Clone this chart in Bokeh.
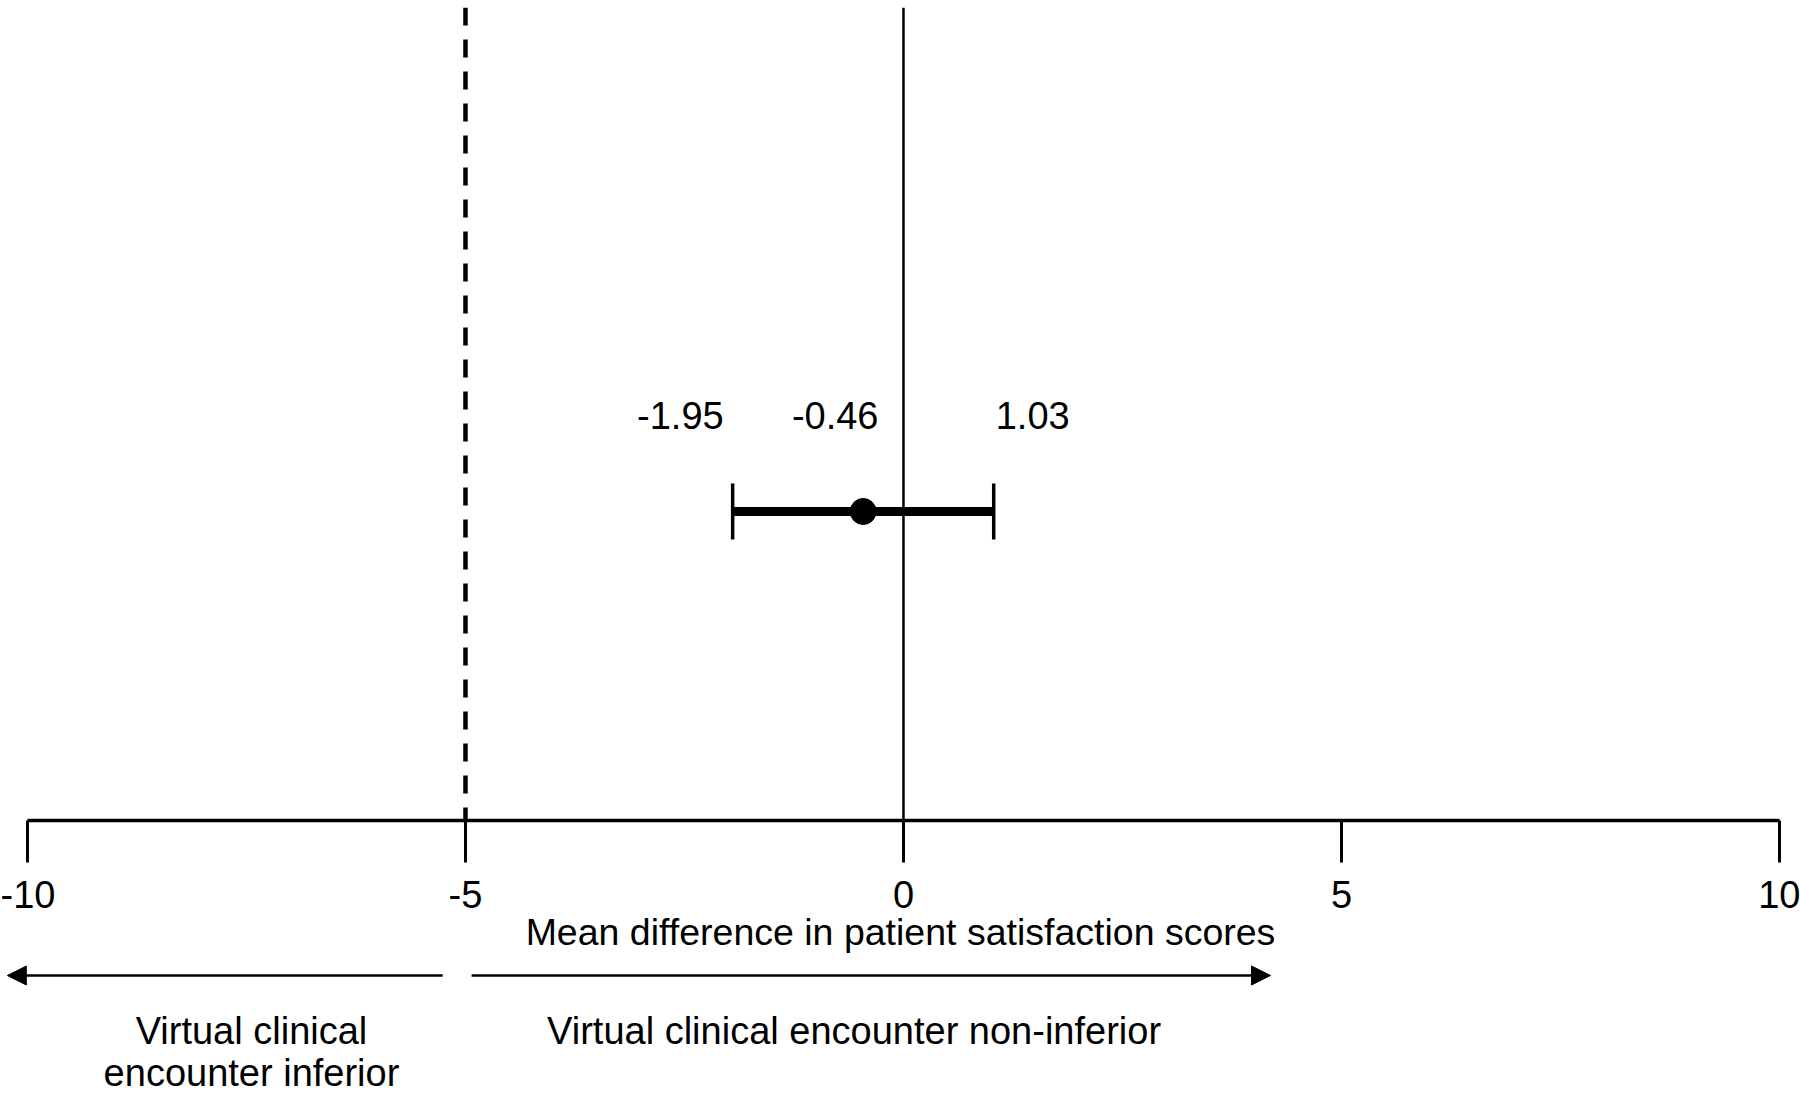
from bokeh.plotting import figure
from bokeh.models import (Range1d, FixedTicker, Span, Whisker, TeeHead, Arrow,
                          NormalHead, ColumnDataSource)
from bokeh.layouts import column
from bokeh.core.properties import value
from bokeh.embed import file_html
from bokeh.resources import INLINE

# ---------------- data ----------------
tick_values = [-10, -5, 0, 5, 10]
tick_labels = ["-10", "-5", "0", "5", "10"]
ci_lower = [-1.95]
ci_mean = [-0.46]
ci_upper = [1.03]
margin = [-5]
zero_line = [0]
x_title = "Mean difference in patient satisfaction scores"
left_text = ["Virtual clinical", "encounter inferior"]
right_text = ["Virtual clinical encounter non-inferior"]

# ---------------- layout / style ----------------
FONT = "Liberation Sans"
X_START, X_END = -10.308, 10.240
CI_Y = 0.3801
CI_LABEL_Y = 0.4982
label_align = ["right", "center", "left"]
label_xoff = [-9, -28, 2]

TOP_H = 964
BOT_H = 1096 - TOP_H

p = figure(width=1800, height=TOP_H, x_range=Range1d(X_START, X_END), y_range=Range1d(0, 1),
           output_backend="svg", toolbar_location=None,
           x_axis_location="below", y_axis_location=None,
           min_border_left=0, min_border_right=0, min_border_top=7,
           min_border_bottom=TOP_H - 820, outline_line_color=None)
p.xgrid.visible = False
p.ygrid.visible = False

ax = p.xaxis[0]
ax.ticker = FixedTicker(ticks=tick_values, minor_ticks=[])
ax.major_label_overrides = {v: l for v, l in zip(tick_values, tick_labels)}
ax.bounds = (tick_values[0], tick_values[-1])
ax.axis_line_width = 3.5
ax.axis_line_color = "black"
ax.major_tick_line_width = 3
ax.major_tick_line_color = "black"
ax.major_tick_out = 42
ax.major_tick_in = 0
ax.minor_tick_out = 0
ax.minor_tick_in = 0
ax.major_label_text_font = FONT
ax.major_label_text_font_size = "38px"
ax.major_label_text_color = "black"
ax.major_label_standoff = 18
ax.axis_label = x_title
ax.axis_label_text_font = FONT
ax.axis_label_text_font_size = "37.5px"
ax.axis_label_text_font_style = "normal"
ax.axis_label_text_color = "black"
ax.axis_label_standoff = 0

# reference lines
p.add_layout(Span(location=zero_line[0], dimension="height", line_color="black", line_width=2.5))
p.add_layout(Span(location=margin[0], dimension="height", line_color="black",
                  line_width=4.5, line_dash="18 14"))

# confidence interval
src = ColumnDataSource(dict(y=[CI_Y] * len(ci_mean), lower=ci_lower, upper=ci_upper, mean=ci_mean))
p.add_layout(Whisker(source=src, base="y", lower="lower", upper="upper", dimension="width",
                     line_width=9, line_color="black",
                     upper_head=TeeHead(size=56, line_width=3.5, line_color="black"),
                     lower_head=TeeHead(size=56, line_width=3.5, line_color="black")))
p.scatter(x="mean", y="y", source=src, size=26, color="black")

vals = [ci_lower[0], ci_mean[0], ci_upper[0]]
lab_src = ColumnDataSource(dict(x=vals, y=[CI_LABEL_Y] * 3, text=[f"{v:.2f}" for v in vals],
                                align=label_align, xoff=label_xoff))
p.text(x="x", y="y", text="text", source=lab_src, text_align="align", x_offset="xoff",
       text_baseline="middle", text_font=value(FONT), text_font_size="38px",
       text_color="black")

# ---------------- bottom strip: arrows and region texts ----------------
q = figure(width=1800, height=BOT_H, x_range=p.x_range, y_range=Range1d(0, 1),
           output_backend="svg", toolbar_location=None,
           x_axis_location=None, y_axis_location=None, min_border=0,
           outline_line_color=None)
q.xgrid.visible = False
q.ygrid.visible = False

ARROW_Y = 0.9167
left_arrow = (-5.26, -10.23)
right_arrow = (-4.93, 4.19)
for xs, xe in (left_arrow, right_arrow):
    q.add_layout(Arrow(x_start=xs, y_start=ARROW_Y, x_end=xe, y_end=ARROW_Y,
                       line_width=2.5, line_color="black",
                       end=NormalHead(size=19, fill_color="black", line_color="black",
                                      line_width=1)))

LEFT_X, RIGHT_X = -7.443, -0.564
LINE1_Y, LINE2_Y = 0.50, 0.178
q.text(x=[LEFT_X, LEFT_X, RIGHT_X], y=[LINE1_Y, LINE2_Y, LINE1_Y],
       text=[left_text[0], left_text[1], right_text[0]],
       text_align="center", text_baseline="middle", text_font=value(FONT),
       text_font_size="38px", text_color="black")

layout = column(p, q, spacing=0)
open("out.html", "w").write(file_html(layout, INLINE))
